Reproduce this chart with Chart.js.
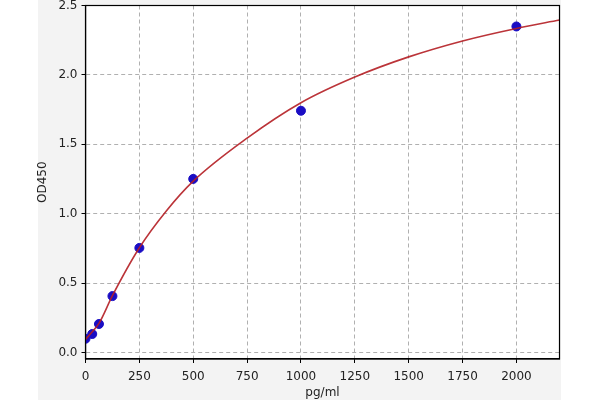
<!DOCTYPE html>
<html>
<head>
<meta charset="utf-8">
<script src="https://cdn.jsdelivr.net/npm/chart.js@4/dist/chart.umd.min.js"></script>
<style>
html,body{margin:0;padding:0;background:#ffffff;}
#wrap{position:relative;width:600px;height:400px;}
</style>
</head>
<body>
<div id="wrap"><canvas id="c" width="600" height="400"></canvas></div>
<script>
// Standard points (concentration pg/ml, OD450)
const stdConc = [0, 31.25, 62.5, 125, 250, 500, 1000, 2000];
const stdOD   = [0.10, 0.134, 0.206, 0.407, 0.754, 1.251, 1.742, 2.349];
// Fitted curve
const curveConc = [0, 31.25, 62.5, 125, 250, 375, 500, 750, 1000, 1250, 1500, 1750, 2000, 2200];
const curveOD   = [0.095, 0.15, 0.21, 0.41, 0.755, 1.02, 1.235, 1.545, 1.80, 1.985, 2.13, 2.245, 2.335, 2.395];
// Tick labels
const xTicks = [0, 250, 500, 750, 1000, 1250, 1500, 1750, 2000];
const yTicks = [0.0, 0.5, 1.0, 1.5, 2.0, 2.5];

const bgPlugin = {
  id: 'bg',
  beforeDraw(chart) {
    const {ctx, chartArea: a} = chart;
    ctx.save();
    ctx.fillStyle = '#f3f3f3';
    ctx.fillRect(38, 0, a.right + 1.5 - 38, chart.height);
    ctx.fillStyle = '#ffffff';
    ctx.fillRect(a.left, a.top, a.right - a.left, a.bottom - a.top);
    ctx.restore();
  },
  afterDraw(chart) {
    const {ctx, chartArea: a} = chart;
    ctx.save();
    ctx.strokeStyle = '#000000';
    ctx.lineWidth = 1.2;
    ctx.strokeRect(a.left, a.top, a.right - a.left, a.bottom - a.top);
    ctx.restore();
  }
};

const tickFont = {family: 'DejaVu Sans', size: 12};

new Chart(document.getElementById('c'), {
  type: 'scatter',
  data: {
    datasets: [
      {
        label: 'standards',
        data: stdConc.map((x, i) => ({x: x, y: stdOD[i]})),
        backgroundColor: '#1a0dc4',
        borderColor: '#1a0dc4',
        pointRadius: 4.5,
        pointHoverRadius: 4.5,
        showLine: false,
        order: 2
      },
      {
        label: 'fit',
        data: curveConc.map((x, i) => ({x: x, y: curveOD[i]})),
        borderColor: 'rgba(180,30,35,0.9)',
        borderWidth: 1.6,
        pointRadius: 0,
        showLine: true,
        fill: false,
        cubicInterpolationMode: 'monotone',
        order: 1
      }
    ]
  },
  options: {
    responsive: false,
    animation: false,
    devicePixelRatio: 1,
    layout: {padding: {left: 0, right: 40.5, top: 5, bottom: 0}},
    plugins: {legend: {display: false}, tooltip: {enabled: false}},
    scales: {
      x: {
        type: 'linear',
        min: 0,
        max: 2200,
        afterBuildTicks(s) { s.ticks = xTicks.map(v => ({value: v})); },
        afterFit(s) { s.height = 41; s.paddingLeft = 0; s.paddingRight = 0; },
        ticks: {font: tickFont, color: '#222222', padding: 7, maxRotation: 0,
                callback: v => String(v)},
        grid: {color: '#b0b0b0', lineWidth: 1, tickColor: '#000000', tickLength: 4, tickWidth: 1},
        border: {color: '#000000', width: 1.2, dash: [4, 3]},
        title: {display: true, text: 'pg/ml', font: tickFont, color: '#222222', padding: {top: 0, bottom: 0}}
      },
      y: {
        type: 'linear',
        min: -0.046,
        max: 2.5,
        afterBuildTicks(s) { s.ticks = yTicks.map(v => ({value: v})); },
        afterFit(s) { s.width = 85.5; s.paddingTop = 0; s.paddingBottom = 0; },
        ticks: {font: tickFont, color: '#222222', padding: 4,
                callback: v => Number(v).toFixed(1)},
        grid: {color: '#b0b0b0', lineWidth: 1, tickColor: '#000000', tickLength: 4, tickWidth: 1},
        border: {color: '#000000', width: 1.2, dash: [4, 3]},
        title: {display: true, text: 'OD450', font: tickFont, color: '#222222', padding: {top: 36, bottom: 0}}
      }
    }
  },
  plugins: [bgPlugin]
});
</script>
</body>
</html>
